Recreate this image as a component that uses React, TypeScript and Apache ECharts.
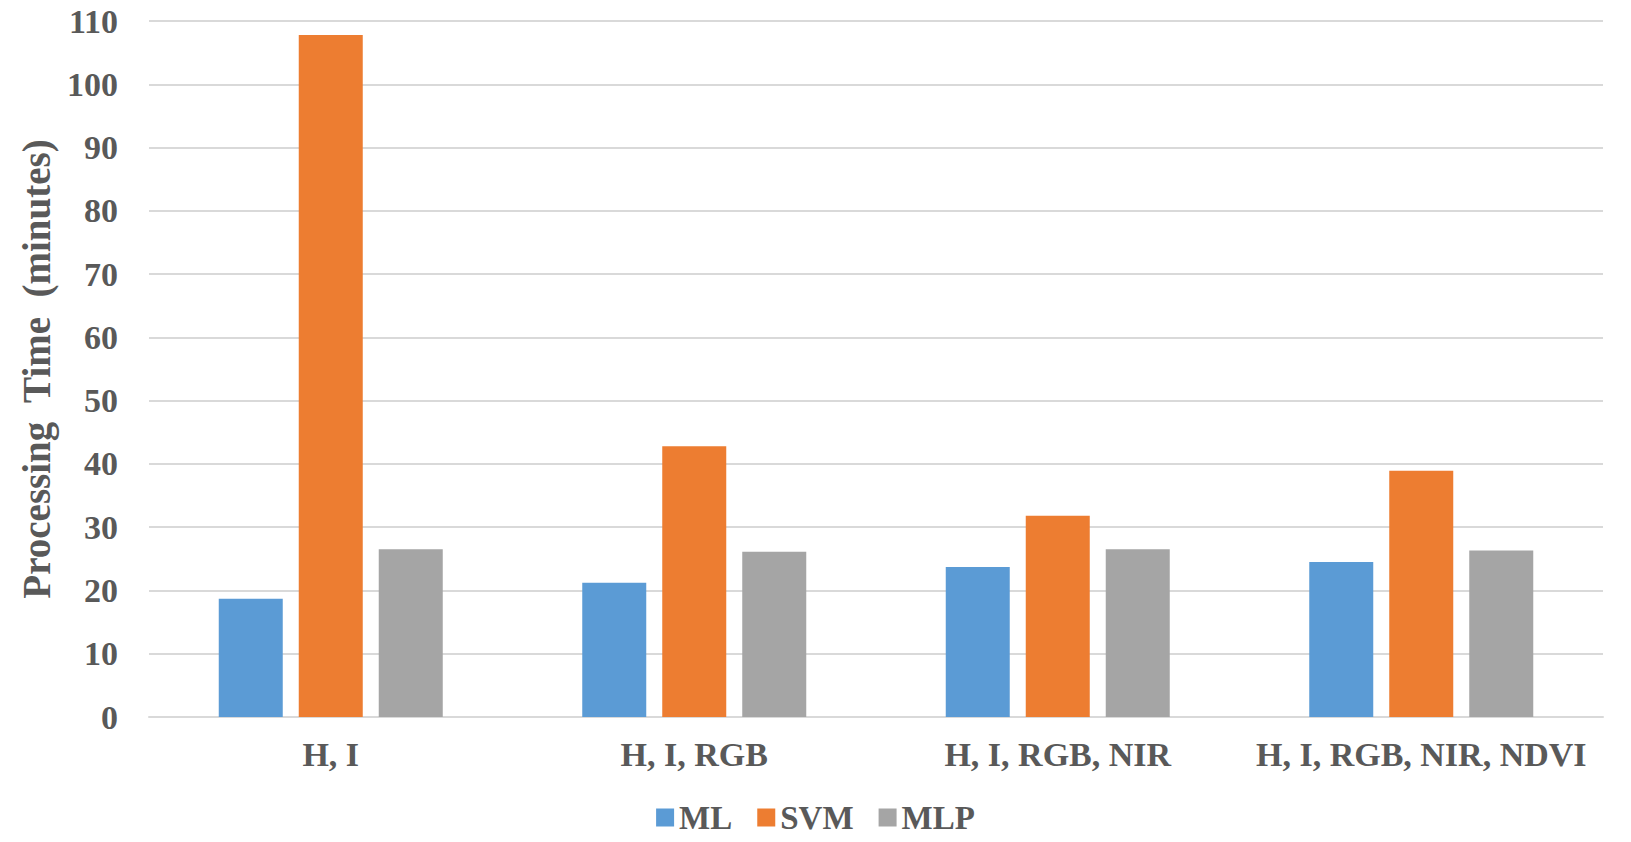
import * as echarts from "echarts";
import { useEffect, useRef } from "react";

const categories = ["H, I", "H, I, RGB", "H, I, RGB, NIR", "H, I, RGB, NIR, NDVI"];
const mlValues = [18.7, 21.2, 23.7, 24.5];
const svmValues = [107.8, 42.8, 31.8, 38.9];
const mlpValues = [26.5, 26.1, 26.5, 26.3];

const FONT = '"Times New Roman", "Liberation Serif", serif';
const TEXT_COLOR = "#595959";
const GRID_COLOR = "#d9d9d9";

export default function App() {
  const containerRef = useRef<HTMLDivElement>(null);

  useEffect(() => {
    const container = containerRef.current;
    if (!container) {
      return;
    }
    const chart = echarts.init(container, undefined, { renderer: "svg" });

    const barSeries = (name: string, data: number[], color: string) => ({
      name,
      type: "bar" as const,
      data,
      barWidth: 64,
      barGap: "25%",
      itemStyle: { color },
    });

    chart.setOption({
      animation: false,
      textStyle: { fontFamily: FONT },
      grid: { left: 149, right: 28, top: 21, bottom: 125 },
      legend: {
        top: 796,
        left: "center",
        itemWidth: 18,
        itemHeight: 18,
        itemGap: 25,
        icon: "rect",
        textStyle: {
          fontFamily: FONT,
          fontSize: 33,
          fontWeight: "bold",
          color: TEXT_COLOR,
        },
        data: ["ML", "SVM", "MLP"],
      },
      xAxis: {
        type: "category",
        data: categories,
        axisLine: { lineStyle: { color: GRID_COLOR, width: 2 } },
        axisTick: { show: false },
        axisLabel: {
          interval: 0,
          margin: 20,
          fontFamily: FONT,
          fontSize: 34,
          fontWeight: "bold",
          color: TEXT_COLOR,
        },
      },
      yAxis: {
        type: "value",
        min: 0,
        max: 110,
        interval: 10,
        name: "Processing  Time  (minutes)",
        nameLocation: "middle",
        nameGap: 90,
        nameTextStyle: {
          fontFamily: FONT,
          fontSize: 39,
          fontWeight: "bold",
          color: TEXT_COLOR,
        },
        axisLine: { show: false },
        axisTick: { show: false },
        axisLabel: {
          margin: 31,
          fontFamily: FONT,
          fontSize: 34,
          fontWeight: "bold",
          color: TEXT_COLOR,
        },
        splitLine: { lineStyle: { color: GRID_COLOR, width: 2 } },
      },
      series: [
        barSeries("ML", mlValues, "#5b9bd5"),
        barSeries("SVM", svmValues, "#ed7d31"),
        barSeries("MLP", mlpValues, "#a5a5a5"),
      ],
    });

    return () => {
      chart.dispose();
    };
  }, []);

  return (
    <div
      ref={containerRef}
      style={{ position: "fixed", left: 0, top: 0, width: 1631, height: 842, background: "#fff" }}
    />
  );
}
